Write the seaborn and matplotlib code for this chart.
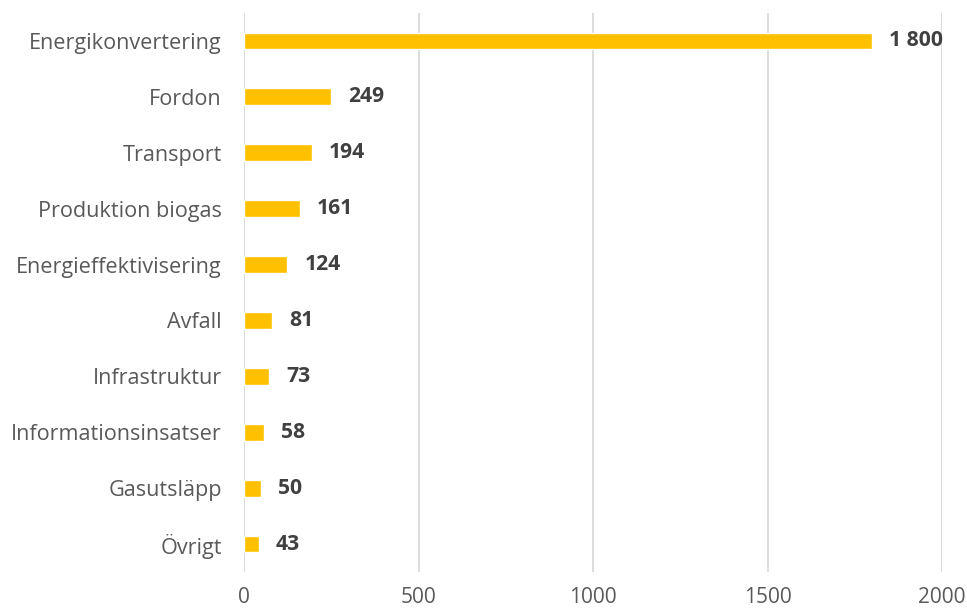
import matplotlib
matplotlib.use("Agg")
import matplotlib.pyplot as plt
import seaborn as sns
import pandas as pd

categories = ["Energikonvertering", "Fordon", "Transport", "Produktion biogas",
              "Energieffektivisering", "Avfall", "Infrastruktur",
              "Informationsinsatser", "Gasutsläpp", "Övrigt"]
values = [1800, 249, 194, 161, 124, 81, 73, 58, 50, 43]
value_labels = ["1 800", "249", "194", "161", "124", "81", "73", "58", "50", "43"]
x_ticks = [0, 500, 1000, 1500, 2000]

sns.set_theme(style="white")
plt.rcParams['font.family'] = ['Open Sans', 'DejaVu Sans']

df = pd.DataFrame({"cat": categories, "val": values})

fig = plt.figure(figsize=(9.67, 6.09), dpi=100)
ax = fig.add_axes([244/967, 1 - 572/609, (942-244)/967, (572-13)/609])

sns.barplot(data=df, y="cat", x="val", orient="h", color="#FFC000",
            saturation=1, width=0.3, ax=ax, zorder=3)

ax.set_xlim(0, 2000)
ax.set_ylim(len(categories) - 0.5, -0.5)
ax.set_xticks(x_ticks)
ax.set_xticklabels([str(t) for t in x_ticks])
ax.grid(axis="x", color="#D9D9D9", linewidth=1.3, zorder=0)
ax.grid(axis="y", visible=False)
for s in ax.spines.values():
    s.set_visible(False)
ax.set_xlabel("")
ax.set_ylabel("")
ax.tick_params(axis="x", length=0, pad=10.5, labelsize=15, labelcolor="#595959")
ax.tick_params(axis="y", length=0, pad=16, labelsize=15.6, labelcolor="#595959")

for i, (v, lab) in enumerate(zip(values, value_labels)):
    ax.annotate(lab, (v, i), xytext=(17, 0), textcoords="offset pixels",
                va="center", ha="left", fontsize=15.2, fontweight="bold",
                color="#404040", zorder=4)

fig.savefig("out.png", dpi=100)
